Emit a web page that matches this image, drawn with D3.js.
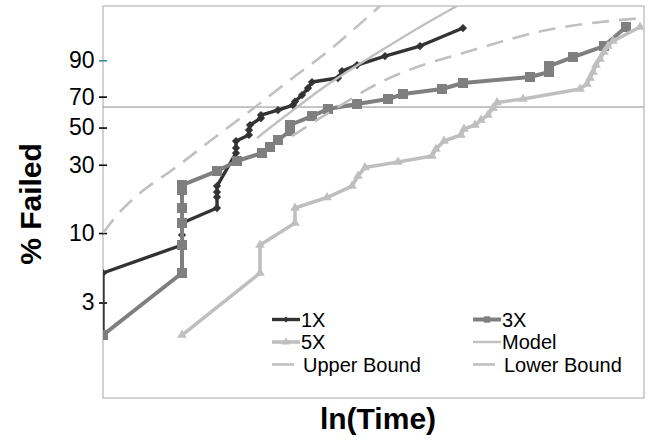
<!DOCTYPE html>
<html>
<head>
<meta charset="utf-8">
<script src="https://cdn.jsdelivr.net/npm/d3@7"></script>
<style>
  html, body { margin: 0; padding: 0; background: #fff; }
  svg { display: block; font-family: "Liberation Sans", Arial, Helvetica, sans-serif; }
</style>
</head>
<body>
<svg id="chart" width="651" height="441"></svg>
<script>
// Weibull probability plot: % failed vs ln(Time)

// Y tick marks (percent failed)
const tickPercents = [3, 10, 30, 50, 70, 90];
const tickLabels = ["3", "10", "30", "50", "70", "90"];
const characteristicPct = 63.2;

// 1X stress level
const lnTime1X = [0.00, 0.00, 1.58, 1.58, 1.58, 2.28, 2.28, 2.28, 2.28, 2.66, 2.66, 2.66, 2.92, 2.92, 2.94, 3.16, 3.16, 3.50, 3.80, 3.84, 3.98, 4.10, 4.18, 4.70, 4.78, 5.08, 5.64, 6.34, 7.20];
const pct1X    = [1.69, 5.03, 8.16, 9.67, 11.84, 15.18, 18.17, 19.67, 21.64, 35.59, 38.2, 42.01, 45.5, 48.47, 51.58, 56.04, 57.97, 61.24, 64.53, 66.8, 71.03, 75.44, 79.05, 81.33, 85.07, 87.96, 91.68, 94.88, 98.34];

// 3X stress level
const lnTime3X = [0.00, 1.58, 1.58, 1.58, 1.58, 1.58, 1.58, 2.28, 2.68, 3.18, 3.34, 3.50, 3.74, 3.74, 4.18, 4.50, 5.08, 5.70, 6.00, 6.78, 7.20, 8.54, 8.92, 8.92, 9.40, 10.02, 10.46];
const pct3X    = [1.69, 5.03, 8.16, 11.84, 15.18, 20.32, 21.99, 27.3, 31.70, 35.59, 38.71, 42.59, 47.86, 51.58, 57.3, 61.9, 65.19, 68.45, 71.67, 74.82, 78.46, 81.89, 84.56, 87.5, 91.30, 94.88, 98.46];

// 5X stress level
const lnTime5X = [1.58, 3.14, 3.14, 3.84, 3.84, 4.48, 4.98, 5.10, 5.24, 5.90, 6.58, 6.66, 6.82, 7.16, 7.22, 7.44, 7.56, 7.70, 7.80, 7.88, 8.40, 9.54, 9.68, 9.74, 9.80, 9.86, 9.94, 10.02, 10.10, 10.20, 10.74];
const pct5X    = [1.69, 5.03, 8.16, 11.84, 15.18, 18.02, 21.64, 25.30, 28.8, 31.25, 34.09, 37.65, 42.01, 45.5, 49.1, 51.58, 54.74, 57.97, 62.55, 66.16, 68.45, 74.82, 77.87, 81.33, 84.56, 87.96, 90.53, 93.07, 94.88, 96.12, 98.46];

// Fitted model and its confidence bounds
const lnTimeModel = [3.08, 3.54, 3.94, 4.34, 4.94, 5.68, 6.34, 7.08];
const pctModel    = [43.71, 54.74, 64.53, 74.20, 85.57, 94.61, 98.46, 99.77];

const lnTimeUpper = [0.00, 0.30, 0.74, 1.44, 2.14, 2.94, 3.74, 4.48, 5.54];
const pctUpper    = [10.00, 13.76, 19.37, 28.57, 42.01, 60.59, 80.21, 93.07, 99.77];

const lnTimeLower = [3.78, 4.54, 5.60, 6.34, 7.20, 7.94, 8.60, 9.34, 10.14, 10.82];
const pctLower    = [44.88, 59.93, 79.63, 87.51, 92.74, 95.89, 97.64, 98.57, 99.04, 99.26];

// ---------------------------------------------------------------
const svg = d3.select("#chart");
const plot = { left: 103, right: 644, top: 6, bottom: 398 };

// Weibull transform: ln(-ln(1 - F))
const weib = p => Math.log(-Math.log(1 - p / 100));

const x = d3.scaleLinear().domain([0, 10.82]).range([plot.left, plot.right]);
const y = d3.scaleLinear().domain([-5.196, 1.804]).range([plot.bottom, plot.top]);

const zip = (xs, ps) => xs.map((t, i) => ({ t, p: ps[i] }));
const stepLine = d3.line().x(d => x(d.t)).y(d => y(weib(d.p)));
const smoothLine = d3.line().x(d => x(d.t)).y(d => y(weib(d.p))).curve(d3.curveMonotoneX);

svg.append("defs").append("clipPath").attr("id", "plotClip")
  .append("rect")
  .attr("x", plot.left).attr("y", plot.top)
  .attr("width", plot.right - plot.left).attr("height", plot.bottom - plot.top);

// frame
svg.append("rect")
  .attr("x", plot.left).attr("y", plot.top)
  .attr("width", plot.right - plot.left).attr("height", plot.bottom - plot.top)
  .attr("fill", "none").attr("stroke", "#a6a6a6").attr("stroke-width", 1);

// characteristic-life reference line
svg.append("line")
  .attr("x1", plot.left).attr("x2", plot.right)
  .attr("y1", y(weib(characteristicPct))).attr("y2", y(weib(characteristicPct)))
  .attr("stroke", "#8c8c8c").attr("stroke-width", 1);

// y axis
const yAxis = d3.axisLeft(y)
  .tickValues(tickPercents.map(weib))
  .tickFormat((d, i) => tickLabels[i])
  .tickSize(4).tickPadding(4.5);

const gy = svg.append("g").attr("transform", `translate(${plot.left},0)`).call(yAxis);
gy.select(".domain").remove();
gy.selectAll(".tick line")
  .attr("x1", -4).attr("x2", 4)
  .attr("stroke", (d, i) => tickPercents[i] === 90 ? "#3f8fa3" : "#000")
  .attr("stroke-width", 1.6);
gy.selectAll(".tick text")
  .attr("font-size", 23).attr("fill", "#000")
  .attr("font-family", "Liberation Sans, Arial, sans-serif");

// series
const g = svg.append("g").attr("clip-path", "url(#plotClip)");

const series = [
  { name: "1X", data: zip(lnTime1X, pct1X), color: "#333333", width: 3.4, symbol: "diamond" },
  { name: "3X", data: zip(lnTime3X, pct3X), color: "#7f7f7f", width: 4, symbol: "square" },
  { name: "5X", data: zip(lnTime5X, pct5X), color: "#bfbfbf", width: 3.6, symbol: "triangle" }
];

function markerPath(sym) {
  if (sym === "square") return d3.symbol(d3.symbolSquare, 100)();
  if (sym === "triangle") return d3.symbol(d3.symbolTriangle, 40)();
  return d3.symbol(d3.symbolSquare, 34)(); // rotated to a diamond
}

series.forEach(s => {
  g.append("path").datum(s.data)
    .attr("d", stepLine).attr("fill", "none")
    .attr("stroke", s.color).attr("stroke-width", s.width)
    .attr("stroke-linejoin", "round");
  g.selectAll(null).data(s.data).enter().append("path")
    .attr("d", markerPath(s.symbol))
    .attr("transform", d => `translate(${x(d.t)},${y(weib(d.p))})` + (s.symbol === "diamond" ? " rotate(45)" : ""))
    .attr("fill", s.color);
});

const modelColor = "#c0c0c0";
g.append("path").datum(zip(lnTimeModel, pctModel))
  .attr("d", smoothLine).attr("fill", "none")
  .attr("stroke", modelColor).attr("stroke-width", 2.4);

[zip(lnTimeUpper, pctUpper), zip(lnTimeLower, pctLower)].forEach(d => {
  g.append("path").datum(d)
    .attr("d", smoothLine).attr("fill", "none")
    .attr("stroke", modelColor).attr("stroke-width", 2.6)
    .attr("stroke-dasharray", "17,10");
});

// legend
const legendItems = [
  { label: "1X", color: "#333333", width: 3.4, symbol: "diamond", col: 0, row: 0 },
  { label: "3X", color: "#7f7f7f", width: 4, symbol: "square", col: 1, row: 0 },
  { label: "5X", color: "#bfbfbf", width: 3.6, symbol: "triangle", col: 0, row: 1 },
  { label: "Model", color: modelColor, width: 2.4, col: 1, row: 1 },
  { label: "Upper Bound", color: modelColor, width: 2.6, col: 0, row: 2, dash: true },
  { label: "Lower Bound", color: modelColor, width: 2.6, col: 1, row: 2, dash: true }
];
const colX = [272, 473];
const rowY = [319.5, 342, 364.5];

const lg = svg.append("g");
legendItems.forEach(it => {
  const x0 = colX[it.col], y0 = rowY[it.row];
  const len = it.dash ? 22 : 28;
  lg.append("line")
    .attr("x1", x0).attr("x2", x0 + len).attr("y1", y0).attr("y2", y0)
    .attr("stroke", it.color).attr("stroke-width", it.width);
  if (it.symbol) {
    const p = it.symbol === "square" ? d3.symbol(d3.symbolSquare, 40)()
            : it.symbol === "triangle" ? d3.symbol(d3.symbolTriangle, 30)()
            : d3.symbol(d3.symbolSquare, 18)();
    lg.append("path").attr("d", p)
      .attr("transform", `translate(${x0 + len / 2},${y0})` + (it.symbol === "diamond" ? " rotate(45)" : ""))
      .attr("fill", it.color);
  }
  lg.append("text")
    .attr("x", it.dash ? x0 + 31 : x0 + 29).attr("y", y0 + 7)
    .attr("font-size", 20).attr("fill", "#000")
    .text(it.label);
});

// axis titles
svg.append("text")
  .attr("x", 378).attr("y", 429)
  .attr("text-anchor", "middle").attr("font-size", 30).attr("font-weight", "bold")
  .text("ln(Time)");

svg.append("text")
  .attr("transform", `translate(41,${(plot.top + plot.bottom) / 2 + 2}) rotate(-90)`)
  .attr("text-anchor", "middle").attr("font-size", 30).attr("font-weight", "bold")
  .text("% Failed");
</script>
</body>
</html>
